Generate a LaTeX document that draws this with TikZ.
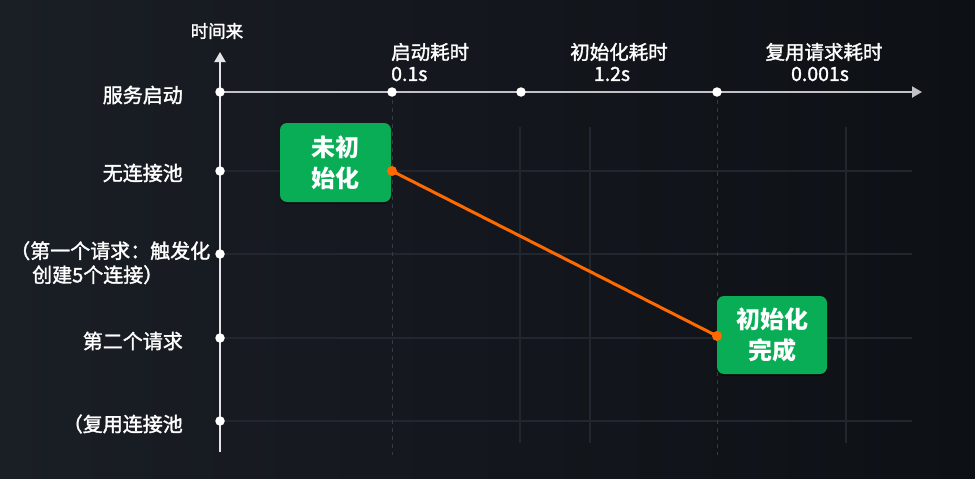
\documentclass[tikz,border=0pt]{standalone}
\usepackage{fontspec}
\setmainfont{Noto Sans CJK SC}
\newfontfamily\lblfont[FakeBold=1.6]{Noto Sans CJK SC}
\usetikzlibrary{arrows.meta,shadows}
\definecolor{bgA}{HTML}{1A1E25}
\definecolor{bgB}{HTML}{0D1015}
\definecolor{gridc}{HTML}{22262E}
\definecolor{dashc}{HTML}{353A43}
\definecolor{axisc}{HTML}{E2E4E8}
\definecolor{boxg}{HTML}{08AD55}
\definecolor{orng}{HTML}{FF6A00}
\tikzset{
  lbl/.style={text=white, font=\lblfont\fontsize{20}{24}\selectfont, inner sep=0pt},
  toplbl/.style={text=white, font=\lblfont\fontsize{19.5}{24}\selectfont, inner sep=0pt},
  greenbox/.style={fill=boxg, rounded corners=7pt, text=white, align=center,
    font=\bfseries\fontsize{24}{31}\selectfont, inner sep=0pt,
    drop shadow={shadow xshift=0pt, shadow yshift=-2pt, opacity=0.35, fill=black}},
  wdot/.style={circle, fill=white, minimum size=9.5pt, inner sep=0pt},
  odot/.style={circle, fill=orng, minimum size=10pt, inner sep=0pt},
  gridline/.style={draw=gridc, line width=1.3pt},
  dashline/.style={draw=dashc, line width=1pt, dash pattern=on 4pt off 4pt},
  axisline/.style={draw=axisc, line width=2pt, -{Triangle[width=11pt,length=10pt]}},
}
\begin{document}
\begin{tikzpicture}[x=1pt,y=-1pt]
\shade[left color=bgA, right color=bgB] (0,0) rectangle (975,479);
\useasboundingbox (0,0) rectangle (975,479);
% grid
\foreach \yy in {171,254,338,421} \draw[gridline] (220,\yy) -- (912,\yy);
\foreach \xx in {520,590,846} \draw[gridline] (\xx,127) -- (\xx,443);
\foreach \xx in {392,717} \draw[dashline] (\xx,100) -- (\xx,455);
% axes
\coordinate (vb) at (220,452);
\coordinate (vt) at (220,52);
\coordinate (hs) at (220,92);
\coordinate (he) at (922,92);
\draw[axisline] (vb) -- (vt);
\draw[axisline, draw=axisc!85!black] (hs) -- (he);
% dots on vertical axis
\node[wdot] (d0) at (220,92) {};
\node[wdot] (d1) at (220,171) {};
\node[wdot] (d2) at (220,254) {};
\node[wdot] (d3) at (220,338) {};
\node[wdot] (d4) at (220,421) {};
% dots on horizontal axis
\node[wdot] (t1) at (392,92) {};
\node[wdot] (t2) at (521,92) {};
\node[wdot] (t3) at (717,92) {};
% axis title
\node[lbl, font=\lblfont\fontsize{17.5}{20}\selectfont] (ttl) at (217,31) {时间来};
% left labels
\node[lbl, anchor=east] (l0) at (183,95) {服务启动};
\node[lbl, anchor=east] (l1) at (183,173) {无连接池};
\node[lbl, align=left, anchor=north west] (l2) at (10,241) {（第一个请求：触发化\\\hspace*{1.1em}创建5个连接）};
\node[lbl, anchor=east] (l3) at (183,341) {第二个请求};
\node[lbl, anchor=east] (l4) at (183,424) {（复用连接池};
% top labels
\node[toplbl, anchor=west] (a1) at (391,52) {启动耗时};
\node[toplbl, anchor=west] (a2) at (391,74) {0.1s};
\node[toplbl] (b1) at (619,52) {初始化耗时};
\node[toplbl] (b2) at (612,74) {1.2s};
\node[toplbl] (c1) at (824,52) {复用请求耗时};
\node[toplbl] (c2) at (820,74) {0.001s};
% boxes
\node[greenbox, minimum width=111pt, minimum height=79pt] (bx1) at (335.5,162.5) {未初\\始化};
\node[greenbox, minimum width=110pt, minimum height=78pt] (bx2) at (772,335) {初始化\\完成};
% orange line
\node[odot] (p1) at (392,171) {};
\node[odot] (p2) at (717,336) {};
\draw[orng, line width=3pt] (p1.center) -- (p2.center);
\end{tikzpicture}
\end{document}
